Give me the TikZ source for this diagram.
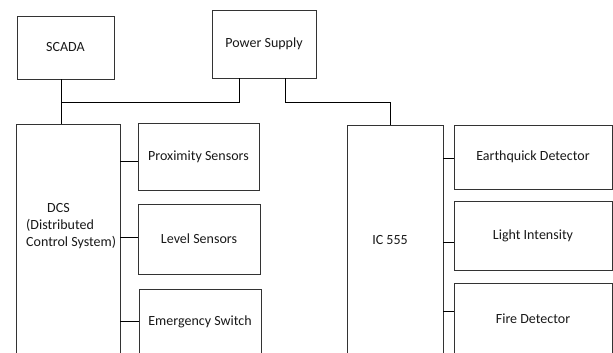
\documentclass[tikz,border=0pt]{standalone}
\usepackage{fontspec}
\setmainfont{Carlito}
\begin{document}
\begin{tikzpicture}[x=1pt,y=-1pt,
  box/.style={draw=black!80, line width=0.9pt, inner sep=0pt, fill=white},
  txt/.style={font=\fontsize{14}{17}\selectfont, text=black!90, inner sep=0pt},
  wire/.style={draw=black, line width=0.9pt}]
\clip (0,0) rectangle (613,353);
% top row
\node[box, txt, minimum width=97pt, minimum height=63pt] (scada) at (65.5,47.5) {SCADA};
\node[box, txt, minimum width=104pt, minimum height=68pt] (ps) at (264,44) {Power Supply};
% DCS column
\node[box, minimum width=104pt, minimum height=296pt] (dcs) at (68,272) {};
\node[txt, align=left, anchor=west] (dcstext) at (26,226) {\hspace*{21pt}DCS\\(Distributed\\Control System)};
\node[box, txt, minimum width=121pt, minimum height=67pt] (prox) at (198.5,156.5) {Proximity Sensors};
\node[box, txt, minimum width=122pt, minimum height=70pt] (lvl) at (199,239) {Level Sensors};
\node[box, txt, minimum width=122pt, minimum height=66pt] (emg) at (200,322) {Emergency Switch};
% IC 555 column
\node[box, minimum width=96pt, minimum height=230pt] (ic) at (395,240) {};
\node[txt] (ictext) at (390,240) {IC 555};
\node[box, txt, minimum width=158pt, minimum height=64pt] (eq) at (533,157) {Earthquick Detector};
\node[box, txt, minimum width=158pt, minimum height=69pt] (li) at (533,235.5) {Light Intensity};
\node[box, txt, minimum width=158pt, minimum height=71pt] (fd) at (533,318.5) {Fire Detector};
% junctions
\coordinate (a) at (61,102);
\coordinate (b) at (239,102);
\coordinate (c) at (285,102);
\coordinate (d) at (390,102);
\draw[wire] (a |- scada.south) -- (a |- dcs.north);
\draw[wire] (b |- ps.south) -- (b) -- (a);
\draw[wire] (c |- ps.south) -- (c) -- (d) -- (d |- ic.north);
% side connectors
\coordinate (q1) at (0,161);
\coordinate (q2) at (0,237);
\coordinate (q3) at (0,321);
\coordinate (r1) at (0,158);
\coordinate (r2) at (0,242);
\coordinate (r3) at (0,311);
\draw[wire] (dcs.east |- q1) -- (prox.west |- q1);
\draw[wire] (dcs.east |- q2) -- (lvl.west |- q2);
\draw[wire] (dcs.east |- q3) -- (emg.west |- q3);
\draw[wire] (ic.east |- r1) -- (eq.west |- r1);
\draw[wire] (ic.east |- r2) -- (li.west |- r2);
\draw[wire] (ic.east |- r3) -- (fd.west |- r3);
\end{tikzpicture}
\end{document}
